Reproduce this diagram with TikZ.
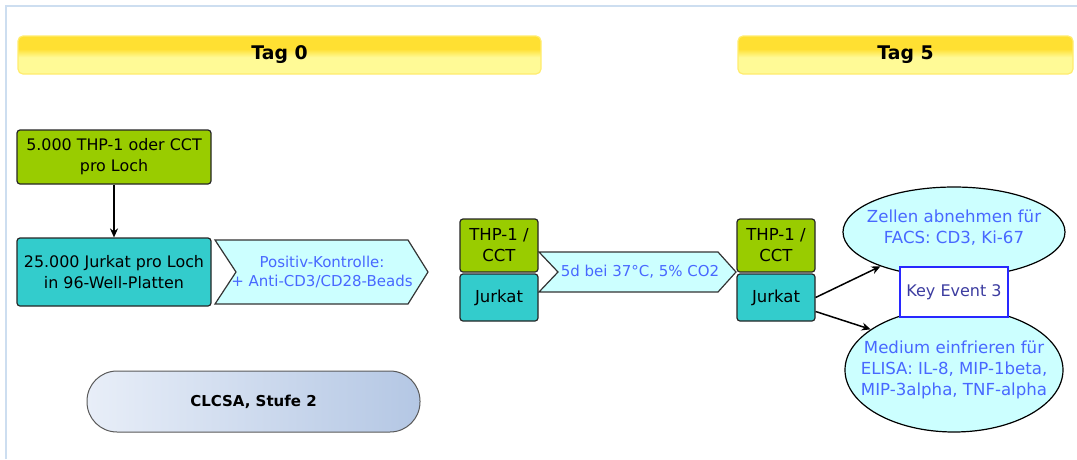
\documentclass[tikz,border=0pt]{standalone}
\usepackage{fontspec}
\setmainfont{DejaVu Sans}
\usetikzlibrary{arrows.meta,shapes.geometric}
\definecolor{cgreen}{RGB}{153,204,0}
\definecolor{cteal}{RGB}{51,204,204}
\definecolor{ccyan}{RGB}{204,255,255}
\definecolor{ctxtblue}{RGB}{72,104,255}
\definecolor{bannerTop}{RGB}{255,224,50}
\definecolor{bannerBot}{RGB}{255,250,150}
\definecolor{bannerEdge}{RGB}{255,236,110}
\definecolor{pillL}{RGB}{232,238,248}
\definecolor{pillR}{RGB}{180,199,228}
\definecolor{frameblue}{RGB}{205,222,240}
\definecolor{keyblue}{RGB}{40,40,255}
\definecolor{keytxt}{RGB}{60,60,160}
\pgfdeclareverticalshading{bannershade}{100bp}{color(0bp)=(bannerBot); color(47bp)=(bannerBot); color(58bp)=(bannerTop); color(100bp)=(bannerTop)}
\tikzset{
  cellbox/.style={draw=black!85, line width=1.2pt, rounded corners=3pt, align=center, inner sep=0pt, text=black},
  boxfont/.style={font=\fontsize{15.9}{21}\selectfont},
  cellfont/.style={font=\fontsize{16.5}{21}\selectfont},
  smallfont/.style={font=\fontsize{15}{18.5}\selectfont},
  ellfont/.style={font=\fontsize{16.6}{21}\selectfont},
  banner/.style={draw=bannerEdge, line width=1.2pt, rounded corners=5pt, shading=bannershade, font=\bfseries\fontsize{18.8}{20}\selectfont, minimum height=38pt, inner sep=0pt},
  chev/.style={draw=black!80, line width=1.2pt, fill=ccyan, line join=miter},
  chevtext/.style={smallfont, text=ctxtblue, align=center},
  ell/.style={ellipse, draw=black, line width=1.2pt, fill=ccyan, inner sep=0pt},
  elltext/.style={text=ctxtblue, align=center, inner sep=0pt, ellfont},
  conn/.style={line width=1.5pt, -{Stealth[length=9pt,width=8pt]}},
}
\begin{document}
\begin{tikzpicture}[x=1pt,y=-1pt]
\useasboundingbox (0,0) rectangle (1077,459);
% frame
\draw[frameblue, line width=1.5pt] (6,459) -- (6,6) -- (1077,6);
% banners
\node[banner, minimum width=523pt] (tag0) at (279.5,55) {Tag 0};
\node[banner, minimum width=335pt] (tag5) at (905.5,55) {Tag 5};
% chevrons
\draw[chev] (215,240) -- (408,240) -- (428,272) -- (408,304) -- (215,304) -- (236,272) -- cycle;
\node[chevtext] (pos) at (322,272) {Positiv-Kontrolle:\\+ Anti-CD3/CD28-Beads};
\draw[chev] (539,252) -- (718,252) -- (736,272) -- (718,292) -- (539,292) -- (558,272) -- cycle;
\node[chevtext] (inc) at (640,272) {5d bei 37°C, 5\% CO2};
% boxes
\node[cellbox, boxfont, fill=cgreen, minimum width=194pt, minimum height=54pt] (thp0) at (114,157) {5.000 THP-1 oder CCT\\pro Loch};
\node[cellbox, boxfont, fill=cteal, minimum width=194pt, minimum height=68pt] (jur0) at (114,272) {25.000 Jurkat pro Loch\\in 96-Well-Platten};
\node[cellbox, cellfont, fill=cgreen, minimum width=78pt, minimum height=53pt] (thp1) at (499,245.5) {THP-1 /\\CCT};
\node[cellbox, cellfont, fill=cteal, minimum width=78pt, minimum height=47pt] (jur1) at (499,297.5) {Jurkat};
\node[cellbox, cellfont, fill=cgreen, minimum width=78pt, minimum height=53pt] (thp2) at (776,245.5) {THP-1 /\\CCT};
\node[cellbox, cellfont, fill=cteal, minimum width=78pt, minimum height=47pt] (jur2) at (776,297.5) {Jurkat};
% ellipses
\node[ell, minimum width=222pt, minimum height=90pt] (facs) at (954,232) {};
\node[elltext] (facst) at (954,228) {Zellen abnehmen für\\FACS: CD3, Ki-67};
\node[ell, minimum width=218pt, minimum height=124pt] (elisa) at (954,370) {};
\node[elltext] (elisat) at (954,370) {Medium einfrieren für\\ELISA: IL-8, MIP-1beta,\\MIP-3alpha, TNF-alpha};
\node[draw=keyblue, line width=1.2pt, fill=white, text=keytxt, minimum width=108pt, minimum height=50pt, inner sep=0pt, font=\fontsize{16}{20}\selectfont] (key) at (954,292) {Key Event 3};
% pill
\node[draw=black!65, line width=1pt, rounded corners=30pt, left color=pillL, right color=pillR, minimum width=333pt, minimum height=61pt, font=\bfseries\fontsize{15}{18}\selectfont] (clcsa) at (253.5,401.5) {CLCSA, Stufe 2};
% connectors
\draw[conn] (thp0.south) -- (jur0.north);
\draw[conn] (jur2.east) -- (facs.205);
\draw[conn] ([yshift=-14pt]jur2.east) -- (elisa.154);
\end{tikzpicture}
\end{document}
